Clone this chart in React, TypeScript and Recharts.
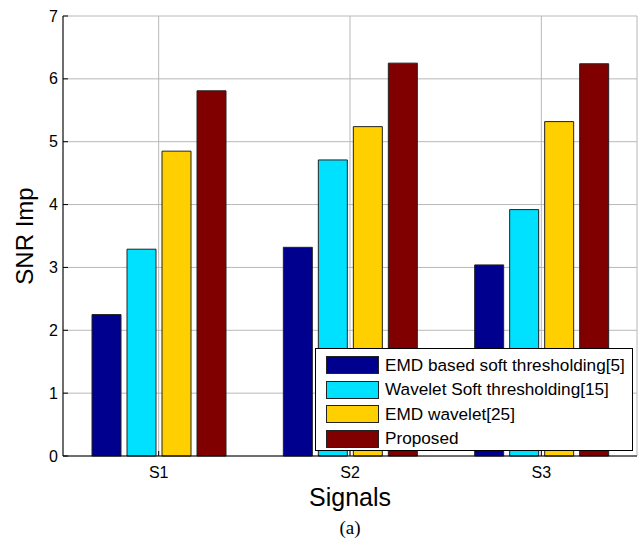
import React from 'react';
import { BarChart, Bar, XAxis, YAxis, CartesianGrid, Legend } from 'recharts';

const signals = ['S1', 'S2', 'S3'];
const emdSoft = [2.25, 3.32, 3.04];
const waveletSoft = [3.29, 4.71, 3.92];
const emdWavelet = [4.85, 5.24, 5.32];
const proposed = [5.81, 6.25, 6.24];
const yTicks = [0, 1, 2, 3, 4, 5, 6, 7];

const series = [
  { key: 'emdSoft', name: 'EMD based soft thresholding[5]', color: '#00008F' },
  { key: 'waveletSoft', name: 'Wavelet Soft thresholding[15]', color: '#00E1FF' },
  { key: 'emdWavelet', name: 'EMD wavelet[25]', color: '#FFCF00' },
  { key: 'proposed', name: 'Proposed', color: '#800000' },
];

const data = signals.map((name, i) => ({
  name,
  emdSoft: emdSoft[i],
  waveletSoft: waveletSoft[i],
  emdWavelet: emdWavelet[i],
  proposed: proposed[i],
}));

const FONT = '"Liberation Sans", Arial, sans-serif';

// MATLAB style: ticks point into the plot box
const LeftTick = (props: any) => {
  const { x, y, payload } = props;
  return (
    <g>
      <line x1={x + 5} y1={y} x2={x + 10} y2={y} stroke="#000" />
      <text x={x} y={y} dy="0.35em" textAnchor="end" fontSize={16} fontFamily={FONT} fill="#000">
        {payload.value}
      </text>
    </g>
  );
};

const RightTick = (props: any) => {
  const { x, y } = props;
  return <line x1={x - 5} y1={y} x2={x} y2={y} stroke="#000" />;
};

const BottomTick = (props: any) => {
  const { x, y, payload } = props;
  return (
    <g>
      <line x1={x} y1={y} x2={x} y2={y - 5} stroke="#000" />
      <text x={x} y={y + 22} textAnchor="middle" fontSize={16} fontFamily={FONT} fill="#000">
        {payload.value}
      </text>
    </g>
  );
};

const TopTick = (props: any) => {
  const { x, y } = props;
  return <line x1={x} y1={y} x2={x} y2={y + 5} stroke="#000" />;
};

const LegendBox = () => (
  <div
    style={{
      width: 318,
      height: 103,
      border: '1px solid #000',
      background: '#fff',
      boxSizing: 'border-box',
      paddingTop: 4,
      fontFamily: FONT,
      fontSize: 17.2,
    }}
  >
    {series.map((s) => (
      <div key={s.key} style={{ display: 'flex', alignItems: 'center', height: 24.5 }}>
        <div
          style={{
            width: 53,
            height: 18,
            marginLeft: 10,
            marginRight: 6,
            background: s.color,
            border: '1px solid #222',
            boxSizing: 'border-box',
          }}
        />
        <span style={{ color: '#000', whiteSpace: 'nowrap' }}>{s.name}</span>
      </div>
    ))}
  </div>
);

export default function App() {
  return (
    <div style={{ position: 'absolute', left: 0, top: 0, width: 641, height: 545, background: '#fff' }}>
      <BarChart
        width={641}
        height={545}
        data={data}
        margin={{ top: 16, right: 4, left: 0, bottom: 59 }}
        barSize={29}
        barGap={6}
      >
        <CartesianGrid stroke="#b8b8b8" />
        <XAxis
          dataKey="name"
          height={30}
          tickSize={0}
          tickMargin={0}
          tickLine={false}
          axisLine={{ stroke: '#000' }}
          tick={<BottomTick />}
          label={{
            content: () => (
              <text x={350} y={506} textAnchor="middle" fontSize={25} fontFamily={FONT} fill="#000">
                Signals
              </text>
            ),
          }}
        />
        <XAxis
          xAxisId="top"
          orientation="top"
          dataKey="name"
          height={0}
          tickSize={0}
          tickMargin={0}
          tickLine={false}
          axisLine={{ stroke: '#000' }}
          tick={<TopTick />}
        />
        <YAxis
          width={63}
          domain={[0, 7]}
          ticks={yTicks}
          tickSize={0}
          tickMargin={5}
          tickLine={false}
          axisLine={{ stroke: '#000' }}
          tick={<LeftTick />}
          label={{
            content: () => (
              <text
                x={27}
                y={236}
                transform="rotate(-90 27 236)"
                textAnchor="middle"
                dominantBaseline="middle"
                fontSize={24}
                fontFamily={FONT}
                fill="#000"
              >
                SNR Imp
              </text>
            ),
          }}
        />
        <YAxis
          yAxisId="right"
          orientation="right"
          width={0}
          domain={[0, 7]}
          ticks={yTicks}
          tickSize={0}
          tickMargin={0}
          tickLine={false}
          axisLine={{ stroke: '#000' }}
          tick={<RightTick />}
        />
        <Legend
          layout="vertical"
          align="center"
          verticalAlign="middle"
          content={<LegendBox />}
          wrapperStyle={{ left: 315, top: 348, width: 318, height: 103 }}
        />
        {series.map((s) => (
          <Bar
            key={s.key}
            dataKey={s.key}
            name={s.name}
            fill={s.color}
            stroke="#222"
            strokeWidth={1}
            isAnimationActive={false}
          />
        ))}
      </BarChart>
      <div
        style={{
          position: 'absolute',
          left: 0,
          width: 700,
          top: 517,
          textAlign: 'center',
          fontFamily: '"Liberation Serif", "Times New Roman", serif',
          fontSize: 19,
          color: '#000',
        }}
      >
        (a)
      </div>
    </div>
  );
}
